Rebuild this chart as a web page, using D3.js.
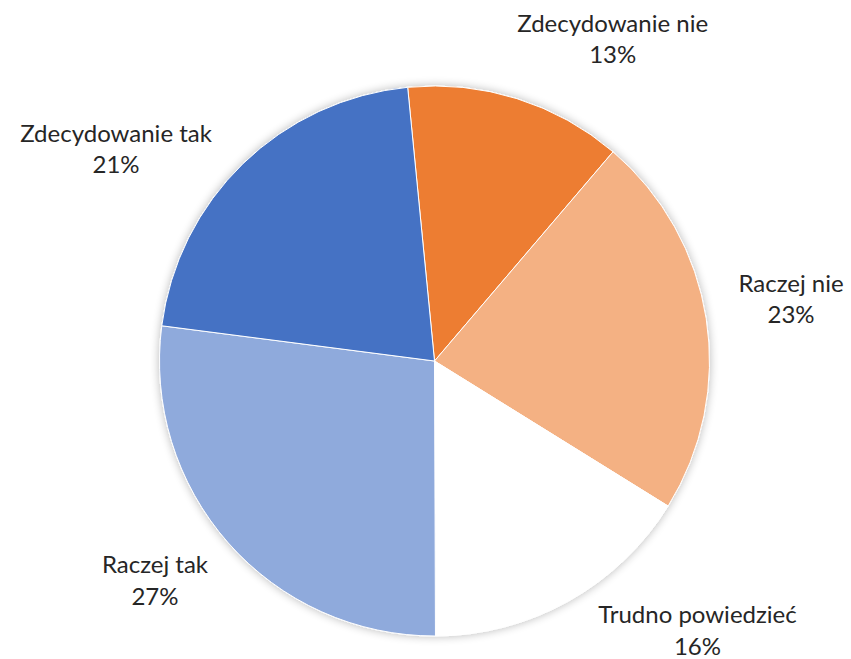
<!DOCTYPE html>
<html><head><meta charset="utf-8">
<script src="https://cdn.jsdelivr.net/npm/d3@7"></script>
<style>html,body{margin:0;padding:0;background:#fff;}</style>
</head><body>
<svg id="chart" width="851" height="659"></svg>
<script>
const categories = ["Zdecydowanie nie", "Raczej nie", "Trudno powiedzieć", "Raczej tak", "Zdecydowanie tak"];
const values = [12.8, 22.6, 16.1, 27.1, 21.4];
const percentLabels = ["13%", "23%", "16%", "27%", "21%"];
const colors = ["#ED7D31", "#F4B183", "#FFFFFF", "#8FAADC", "#4472C4"];

// layout (not data)
const cx = 434.5, cy = 361, R = 275;
const startDeg = -5.6;
const labelPlacement = [ // [angle deg, radius] from center to label block center
  [29.6, 360.7], [81.5, 360.5], [136.6, 382.7], [230.8, 360.7], [302.6, 378]
];
const halfGap = 15.7;

const svg = d3.select("#chart");
const defs = svg.append("defs");
const f = defs.append("filter").attr("id","sh").attr("x","-20%").attr("y","-20%").attr("width","140%").attr("height","140%");
f.append("feGaussianBlur").attr("in","SourceAlpha").attr("stdDeviation",5).attr("result","b");
f.append("feComponentTransfer").attr("in","b").attr("result","t")
  .append("feFuncA").attr("type","linear").attr("slope",0.28);
const m = f.append("feMerge");
m.append("feMergeNode").attr("in","t");
m.append("feMergeNode").attr("in","SourceGraphic");

const pie = d3.pie().sort(null).value(d => d)
  .startAngle(startDeg * Math.PI/180).endAngle(startDeg * Math.PI/180 + 2*Math.PI);
const arcs = pie(values);
const arc = d3.arc().innerRadius(0).outerRadius(R);

const g = svg.append("g").attr("transform", `translate(${cx},${cy})`);
g.append("g").attr("filter","url(#sh)")
  .selectAll("path").data(arcs).join("path")
  .attr("d", arc).attr("fill", (d,i) => colors[i])
  .attr("stroke", "#fff").attr("stroke-width", 1);

const lab = svg.append("g").attr("font-family", "Lato, 'Open Sans', sans-serif")
  .attr("font-size", 24).attr("fill", "#262626");
categories.forEach((c, i) => {
  const [a, r] = labelPlacement[i];
  const rad = a * Math.PI/180;
  const x = cx + r*Math.sin(rad), y = cy - r*Math.cos(rad);
  const t = lab.append("text").attr("text-anchor","middle");
  t.append("tspan").attr("x", x).attr("y", y - halfGap).text(c);
  t.append("tspan").attr("x", x).attr("y", y + halfGap).text(percentLabels[i]);
});
</script>
</body></html>
